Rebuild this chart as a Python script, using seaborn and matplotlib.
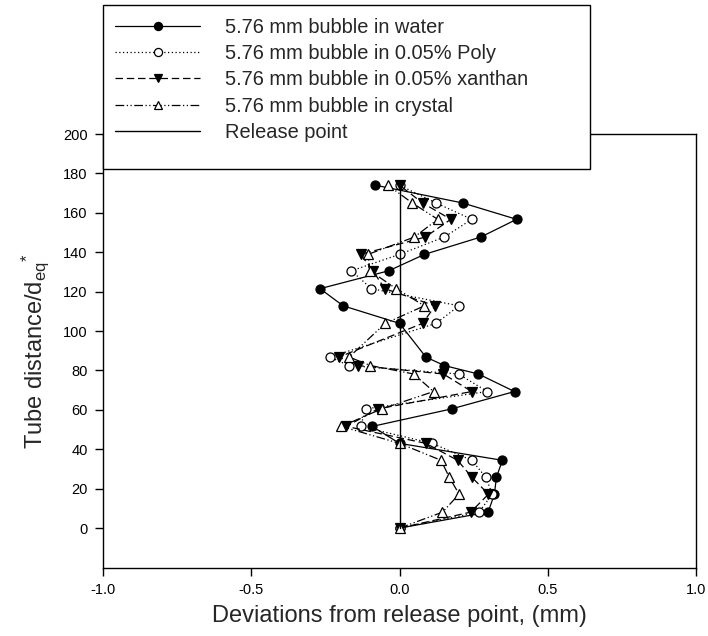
import matplotlib
matplotlib.use("Agg")
import matplotlib.pyplot as plt
from matplotlib.patches import Rectangle
import seaborn as sns
import pandas as pd

# Height along the tube (Tube distance / d_eq) at which the bubble was recorded
tube_distance = [0.0, 8.1, 17.2, 25.8, 34.4, 43.0, 51.6, 60.5, 69.3, 78.2, 82.5,
                 86.8, 103.9, 112.8, 121.5, 130.6, 138.9, 147.7, 156.7, 165.0, 174.0]

# Lateral deviation from the release point (mm) for each liquid
dev_water = [0.0, 0.299, 0.320, 0.327, 0.347, 0.0, -0.092, 0.176, 0.388, 0.266, 0.151,
             0.089, 0.0, -0.190, -0.268, -0.036, 0.084, 0.274, 0.395, 0.213, -0.081]
dev_poly = [0.0, 0.268, 0.313, 0.291, 0.244, 0.110, -0.131, -0.114, 0.296, 0.199, -0.171,
            -0.235, 0.123, 0.201, -0.095, -0.162, 0.0, 0.151, 0.244, 0.123, 0.0]
dev_xanthan = [0.0, 0.240, 0.300, 0.244, 0.196, 0.089, -0.179, -0.073, 0.244, 0.148, -0.140,
               -0.204, 0.078, 0.120, -0.050, -0.090, -0.131, 0.087, 0.173, 0.078, 0.0]
dev_crystal = [0.0, 0.145, 0.201, 0.168, 0.140, 0.0, -0.196, -0.060, 0.115, 0.048, -0.098,
               -0.170, -0.048, 0.084, -0.011, -0.100, -0.106, 0.050, 0.129, 0.043, -0.039]

series_labels = ["5.76 mm bubble in water",
                 "5.76 mm bubble in 0.05% Poly",
                 "5.76 mm bubble in 0.05% xanthan",
                 "5.76 mm bubble in crystal"]
release_label = "Release point"
release_x = 0.0

x_ticks = [-1.0, -0.5, 0.0, 0.5, 1.0]
y_ticks = [0, 20, 40, 60, 80, 100, 120, 140, 160, 180, 200]

sns.set_style("ticks")
plt.rcParams["font.family"] = ["Liberation Sans", "DejaVu Sans"]
plt.rcParams["axes.unicode_minus"] = False
plt.rcParams["mathtext.fontset"] = "custom"
plt.rcParams["mathtext.rm"] = "Liberation Sans"
plt.rcParams["mathtext.it"] = "Liberation Sans"

frames = []
for label, dev in zip(series_labels, [dev_water, dev_poly, dev_xanthan, dev_crystal]):
    frames.append(pd.DataFrame({"deviation": dev, "distance": tube_distance, "series": label}))
df = pd.concat(frames, ignore_index=True)

styles = {
    series_labels[0]: dict(linestyle="-", marker="o", markerfacecolor="black"),
    series_labels[1]: dict(linestyle=(0, (1, 2)), marker="o", markerfacecolor="white"),
    series_labels[2]: dict(linestyle=(0, (6, 3)), marker="v", markerfacecolor="black"),
    series_labels[3]: dict(linestyle=(0, (7, 2, 1, 2, 1, 2)), marker="^", markerfacecolor="white"),
}

fig = plt.figure(figsize=(7.08, 6.36), dpi=100)
ax = fig.add_axes([103 / 708, 1 - 567.5 / 636, 593 / 708, 433.5 / 636])

for label in series_labels:
    sub = df[df["series"] == label]
    sns.lineplot(data=sub, x="deviation", y="distance", sort=False, estimator=None,
                 orient="y", ax=ax, color="black", linewidth=0.9,
                 markersize=6.5, markeredgecolor="black", markeredgewidth=0.9,
                 label=label, legend=False, **styles[label])

sns.lineplot(x=[release_x, release_x], y=[tube_distance[0], tube_distance[-1]],
             sort=False, estimator=None, orient="y", ax=ax, color="black",
             linewidth=1.0, label=release_label, legend=False)

ax.set_xlim(-1.0, 1.0)
ax.set_ylim(-20, 200)
ax.set_xticks(x_ticks)
ax.set_xticklabels([f"{v:.1f}" for v in x_ticks])
ax.set_yticks(y_ticks)
ax.tick_params(direction="out", length=6, width=1, colors="black", labelsize=10.5, pad=5)
for sp in ax.spines.values():
    sp.set_visible(True)
    sp.set_color("black")
    sp.set_linewidth(1.0)

ax.set_xlabel("Deviations from release point, (mm)", fontsize=17, labelpad=6)
ax.set_ylabel(r"Tube distance/d$_{\mathrm{eq}}$$^{*}$", fontsize=17, labelpad=9)

# Legend box sits across the top of the plot
box = Rectangle((103 / 708, 1 - 169 / 636), (590 - 103) / 708, (169 - 5) / 636,
                transform=fig.transFigure, facecolor="white", edgecolor="black",
                linewidth=1.0, zorder=4)
fig.add_artist(box)

handles = ax.get_lines()
leg = fig.legend(handles=handles, labels=series_labels + [release_label],
                 loc="upper left", bbox_to_anchor=(115 / 708, 1 - 18 / 636),
                 frameon=False, fontsize=14.4, handlelength=4.25, handletextpad=1.25,
                 labelspacing=0.36, borderpad=0, borderaxespad=0, markerscale=0.9)
leg.set_zorder(5)

fig.savefig("out.png", dpi=100)
